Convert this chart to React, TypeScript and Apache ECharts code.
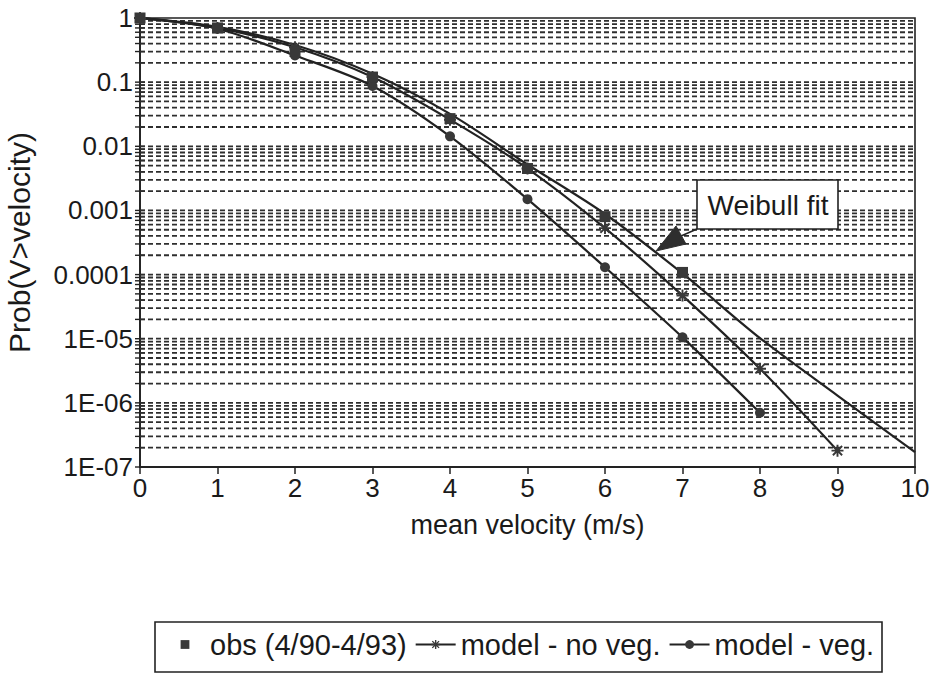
import React, { useEffect, useRef } from "react";
import * as echarts from "echarts";

// ---- data ----
const velocities = [0, 1, 2, 3, 4, 5, 6, 7, 8, 9, 10];
const obsValues = [1, 0.7, 0.3, 0.12, 0.027, 0.0045, 0.0008, 0.000108];
const noVegValues = [1, 0.7, 0.35, 0.12, 0.026, 0.0045, 0.00053, 0.000047, 0.0000034, 0.00000018];
const vegValues = [1, 0.68, 0.26, 0.087, 0.0143, 0.0015, 0.00013, 0.0000105, 0.0000007];
const weibullValues = [1, 0.73, 0.38, 0.135, 0.032, 0.0052, 0.00088, 0.000104, 0.0000102, 0.0000013, 0.00000017];

const seriesNames = ["obs (4/90-4/93)", "model - no veg.", "model - veg.", "Weibull fit"];
const yDecades = [1e-7, 1e-6, 1e-5, 1e-4, 1e-3, 1e-2, 1e-1, 1];
const yTickLabels = ["1E-07", "1E-06", "1E-05", "0.0001", "0.001", "0.01", "0.1", "1"];
const minorSteps = [1, 2, 3, 4, 5, 6, 7, 8, 9];
const xTickLabels = ["0", "1", "2", "3", "4", "5", "6", "7", "8", "9", "10"];

const FONT = '"Liberation Sans", Arial, Helvetica, sans-serif';
const INK = "#222222";
const MARK = "#383838";

const ASTERISK =
  "path://M0,4.2L10,4.2L10,5.8L0,5.8Z M4.2,0L5.8,0L5.8,10L4.2,10Z M0.6,1.7L1.7,0.6L9.4,8.3L8.3,9.4Z M8.3,0.6L9.4,1.7L1.7,9.4L0.6,8.3Z";

export default function App() {
  const ref = useRef<HTMLDivElement>(null);

  useEffect(() => {
    if (!ref.current) return;
    const chart = echarts.init(ref.current, null, { renderer: "svg" });

    // grid line positions (k * 10^n)
    const gridRows: number[][] = [];
    for (let d = 0; d < yDecades.length - 1; d++) {
      for (const k of minorSteps) {
        gridRows.push([0, yDecades[d] * k]);
      }
    }
    gridRows.push([0, 1]);

    const pair = (vals: number[]) => vals.map((v, i) => [velocities[i], v]);

    const option: any = {
      animation: false,
      backgroundColor: "#ffffff",
      textStyle: { fontFamily: FONT },
      grid: {
        left: 140,
        right: 19,
        top: 18,
        bottom: 210,
        outerBoundsMode: "none",
        containLabel: false,
        show: true,
        borderColor: INK,
        borderWidth: 1.6,
        backgroundColor: "transparent",
      },
      xAxis: {
        type: "value",
        min: 0,
        max: 10,
        interval: 1,
        name: "mean velocity (m/s)",
        nameLocation: "middle",
        nameGap: 44,
        nameTextStyle: { fontSize: 27, color: "#1a1a1a", fontFamily: FONT },
        axisLine: { show: true, lineStyle: { color: INK, width: 1.8 } },
        axisTick: { show: true, length: 7, lineStyle: { color: INK, width: 1.5 } },
        axisLabel: {
          fontSize: 26,
          color: "#1a1a1a",
          margin: 8,
          fontFamily: FONT,
          formatter: (v: number) => xTickLabels[Math.round(v)] ?? "",
        },
        splitLine: { show: false },
      },
      yAxis: {
        type: "log",
        logBase: 10,
        min: 1e-7,
        max: 1,
        name: "Prob(V>velocity)",
        nameLocation: "middle",
        nameGap: 106,
        nameTextStyle: { fontSize: 30, color: "#1a1a1a", fontFamily: FONT },
        axisLine: { show: true, lineStyle: { color: INK, width: 1.8 } },
        axisTick: { show: false },
        axisLabel: {
          fontSize: 26,
          color: "#1a1a1a",
          margin: 7,
          fontFamily: FONT,
          formatter: (v: number) => {
            const idx = Math.round(Math.log10(v)) + 7;
            return yTickLabels[idx] ?? "";
          },
        },
        splitLine: { show: false },
        minorSplitLine: { show: false },
      },
      legend: {
        data: seriesNames.slice(0, 3),
        left: 165,
        top: 630,
        padding: 0,
        itemGap: 8,
        itemWidth: 40,
        itemHeight: 11,
        textStyle: { fontSize: 29, color: "#1a1a1a", fontFamily: FONT },
        selectedMode: false,
      },
      series: [
        {
          type: "custom",
          name: "grid",
          silent: true,
          z: 1,
          data: gridRows,
          renderItem: (_params: any, api: any) => {
            const v = api.value(1);
            const a = api.coord([0, v]);
            const b = api.coord([10, v]);
            const children: any[] = [
              {
                type: "line",
                shape: { x1: a[0] - 5, y1: a[1], x2: a[0] + 5, y2: a[1] },
                style: { stroke: INK, lineWidth: 1.4 },
              },
            ];
            if (v < 0.999 && v > 1.01e-7) {
              children.push({
                type: "line",
                shape: { x1: a[0], y1: a[1], x2: b[0], y2: b[1] },
                style: { stroke: "#2e2e2e", lineWidth: 1.8, lineDash: [5, 3] },
              });
            }
            return { type: "group", children };
          },
        },
        {
          type: "line",
          name: seriesNames[3],
          data: pair(weibullValues),
          smooth: 0.3,
          symbol: "none",
          z: 3,
          lineStyle: { color: INK, width: 2.2 },
          itemStyle: { color: INK },
        },
        {
          type: "line",
          name: seriesNames[1],
          data: pair(noVegValues),
          smooth: 0.3,
          symbol: ASTERISK,
          symbolSize: 12,
          z: 4,
          lineStyle: { color: INK, width: 2.2 },
          itemStyle: { color: MARK },
        },
        {
          type: "line",
          name: seriesNames[2],
          data: pair(vegValues),
          smooth: 0.3,
          symbol: "circle",
          symbolSize: 10,
          z: 4,
          lineStyle: { color: INK, width: 2.2 },
          itemStyle: { color: MARK },
        },
        {
          type: "line",
          name: seriesNames[0],
          data: pair(obsValues),
          symbol: "rect",
          symbolSize: 11,
          z: 5,
          lineStyle: { width: 0, opacity: 0 },
          itemStyle: { color: MARK },
        },
      ],
      graphic: [
        {
          type: "rect",
          shape: { x: 697, y: 180, width: 141, height: 49 },
          style: { fill: "#ffffff", stroke: INK, lineWidth: 1.6 },
          z: 20,
        },
        {
          type: "text",
          x: 768,
          y: 205,
          style: {
            text: "Weibull fit",
            fontSize: 28,
            fontFamily: FONT,
            fill: "#1a1a1a",
            align: "center",
            verticalAlign: "middle",
          },
          z: 21,
        },
        {
          type: "line",
          shape: { x1: 681, y1: 236, x2: 697, y2: 229 },
          style: { stroke: INK, lineWidth: 1.6 },
          z: 20,
        },
        {
          type: "polygon",
          shape: { points: [[656, 251], [676, 226], [686, 244]] },
          style: { fill: "#2e2e2e", stroke: "#2e2e2e", lineWidth: 1 },
          z: 20,
        },
        {
          type: "rect",
          shape: { x: 155, y: 622, width: 727, height: 50 },
          style: { fill: "none", stroke: INK, lineWidth: 1.6 },
          z: 20,
        },
      ],
    };

    chart.setOption(option);
    return () => chart.dispose();
  }, []);

  return (
    <div
      ref={ref}
      style={{ position: "fixed", left: 0, top: 0, width: 934, height: 677, background: "#fff" }}
    />
  );
}
